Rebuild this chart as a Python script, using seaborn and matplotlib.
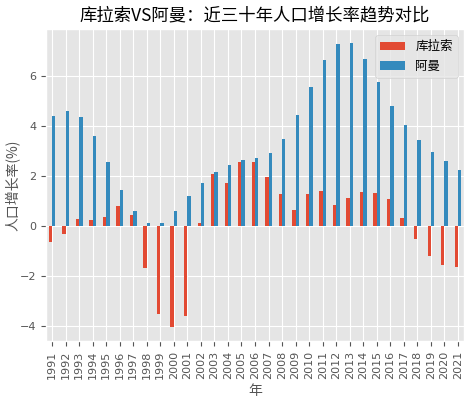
import pandas as pd
import seaborn as sns
import matplotlib.pyplot as plt

plt.style.use('ggplot')
plt.rcParams['font.family'] = ['DejaVu Sans', 'Noto Sans CJK SC']
cjk = ['Noto Sans CJK SC', 'DejaVu Sans']

years = list(range(1991, 2022))
curacao = [-0.67, -0.32, 0.27, 0.23, 0.35, 0.80, 0.45, -1.69, -3.53, -4.04,
           -3.62, 0.12, 2.07, 1.72, 2.55, 2.56, 1.97, 1.27, 0.65, 1.27,
           1.41, 0.83, 1.13, 1.35, 1.32, 1.07, 0.32, -0.52, -1.20, -1.59, -1.67]
oman = [4.39, 4.60, 4.35, 3.59, 2.56, 1.44, 0.59, 0.09, 0.13, 0.59,
        1.18, 1.72, 2.16, 2.45, 2.64, 2.72, 2.91, 3.47, 4.43, 5.56,
        6.63, 7.27, 7.31, 6.69, 5.75, 4.81, 4.05, 3.43, 2.95, 2.60, 2.24]

df = pd.DataFrame({'年': years, '库拉索': curacao, '阿曼': oman})
df_long = df.melt(id_vars='年', var_name='国家', value_name='增长率')

fig, ax = plt.subplots(figsize=(4.74, 3.99), dpi=100)
sns.barplot(data=df_long, x='年', y='增长率', hue='国家',
            palette=['#E24A33', '#348ABD'], width=0.5, ax=ax, saturation=1)

ax.set_title('库拉索VS阿曼：近三十年人口增长率趋势对比', fontsize=12.5, family=cjk)
ax.set_xlabel('年', fontsize=10, family=cjk)
ax.set_ylabel('人口增长率(%)', fontsize=10, family=cjk)
ax.yaxis.set_label_coords(-0.06, 0.5)
ax.tick_params(axis='x', labelrotation=90, labelsize=8)
ax.tick_params(axis='y', labelsize=8)
ax.set_xlim(-0.45, len(years) - 0.55)
ax.grid(True, axis='both', color='white')
ax.set_axisbelow(True)
ax.legend(title=None, loc='upper right', prop={'family': cjk, 'size': 9})

fig.subplots_adjust(left=0.097, right=0.979, top=0.927, bottom=0.146)
plt.savefig('out.png', dpi=100)
